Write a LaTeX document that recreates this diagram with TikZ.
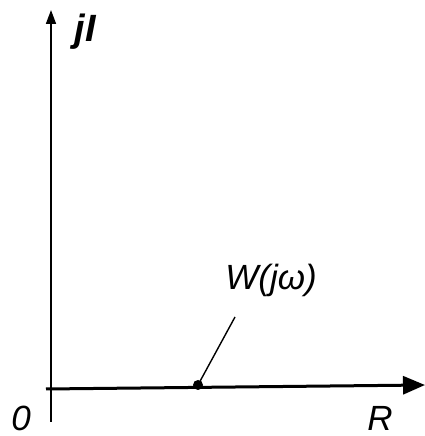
\documentclass[tikz,border=0pt]{standalone}
\usepackage{fontspec}
\setmainfont{Liberation Sans}
\usetikzlibrary{arrows.meta}
\begin{document}
\begin{tikzpicture}[
    x=1pt,y=1pt,
    font=\fontsize{35}{40}\selectfont\itshape,
    asse/.style={line width=1.6pt,-{Triangle[length=14pt,width=10pt]}},
    reale/.style={line width=3pt,-{Triangle[length=22pt,width=18pt]}},
    punto/.style={circle,fill=black,inner sep=0pt,minimum size=10pt}]
  \useasboundingbox (0,0) rectangle (425,436);

  % --- assi ---
  \coordinate (o1) at (51,14);
  \coordinate (o2) at (51,426);
  \draw[asse] (o1) -- (o2);

  \coordinate (r1) at (46,47);
  \coordinate (r2) at (425,51);
  \draw[reale] (r1) -- (r2);

  % --- punto e richiamo ---
  \node[punto] (w) at (198,51) {};
  \coordinate (wc) at (235,119);
  \draw[line width=1.4pt] (w.center) -- (wc);

  % --- etichette ---
  \node (lw) at (271,156) {W(jω)};
  \node[font=\fontsize{38}{42}\selectfont\itshape\bfseries] (lj) at (85,404) {jI};
  \node (l0) at (21,18) {0};
  \node (lr) at (380,18) {R};

\end{tikzpicture}
\end{document}
